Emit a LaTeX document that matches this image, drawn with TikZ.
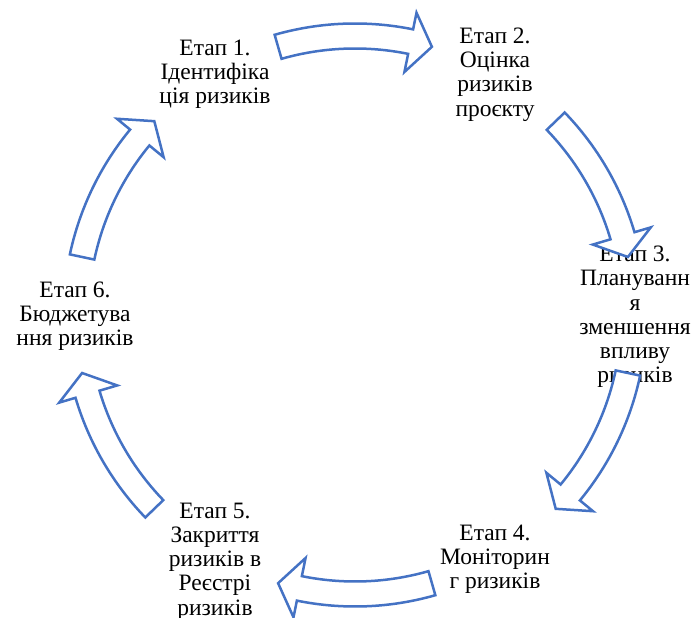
\documentclass[tikz,border=0pt]{standalone}
\usepackage{fontspec}
\setmainfont{Liberation Serif}
\definecolor{arrowblue}{HTML}{4472C4}
\tikzset{
  stage/.style={align=center, inner sep=0pt, text=black,
    font=\fontsize{23.5pt}{24.2pt}\selectfont},
  blockarrow/.style={draw=arrowblue, fill=white, line width=2.5pt, line join=miter}
}
\begin{document}
\begin{tikzpicture}
\useasboundingbox (0,0) rectangle (693pt,618pt);
\begin{scope}[shift={(355pt,303pt)}]
  % stage labels around the cycle
  \node[stage] (s1) at ([yshift=-2pt]120:280pt) {Етап 1.\\Ідентифіка\\ція ризиків};
  \node[stage] (s2) at ([yshift=-2pt]60:280pt) {Етап 2.\\Оцінка\\ризиків\\проєкту};
  \node[stage] (s3) at ([yshift=-2pt]0:280pt) {Етап 3.\\Плануванн\\я\\зменшення\\впливу\\ризиків};
  \node[stage] (s4) at ([yshift=-2pt]-60:280pt) {Етап 4.\\Моніторин\\г ризиків};
  \node[stage] (s5) at ([yshift=-4pt]-120:280pt) {Етап 5.\\Закриття\\ризиків в\\Реєстрі\\ризиків};
  \node[stage] (s6) at ([yshift=-1pt]180:280pt) {Етап 6.\\Бюджетува\\ння ризиків};
  % curved block arrows running clockwise between the stages
  \foreach \m in {90,28,-28,-90,-152,152}{
    \draw[blockarrow]
      (\m+16:291.5pt) arc[start angle=\m+16, end angle=\m-11.5, radius=291.5pt]
      -- (\m-11.5:308.5pt) -- (\m-16:279pt) -- (\m-11.5:248pt)
      -- (\m-11.5:266.5pt) arc[start angle=\m-11.5, end angle=\m+16, radius=266.5pt]
      -- cycle;
  }
\end{scope}
\end{tikzpicture}
\end{document}
